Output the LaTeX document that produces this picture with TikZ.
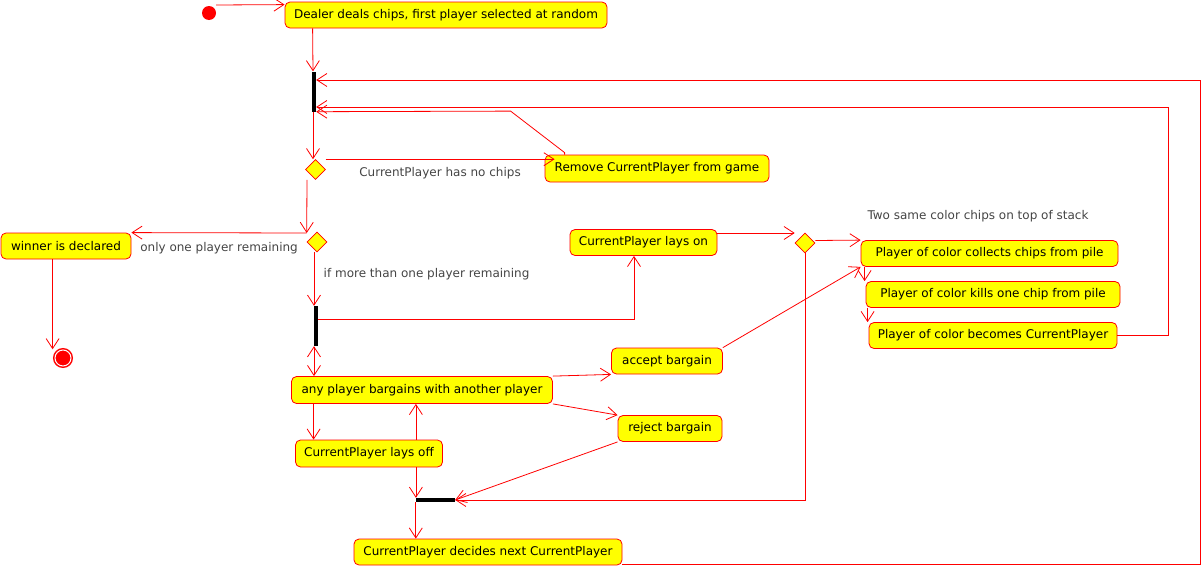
\documentclass[tikz,border=0pt]{standalone}
\usepackage{fontspec}
\setmainfont{DejaVu Sans}
\usetikzlibrary{shapes.geometric,arrows.meta}

\definecolor{umlred}{RGB}{255,0,0}
\definecolor{umlyellow}{RGB}{255,255,0}
\definecolor{guardgray}{RGB}{68,68,68}

\begin{document}
\begin{tikzpicture}[x=1pt,y=-1pt,
  activity/.style={draw=umlred,fill=umlyellow,rounded corners=5pt,line width=0.8pt,
    minimum height=26pt,inner sep=0pt,font=\fontsize{12}{14}\selectfont},
  choice/.style={diamond,aspect=1,draw=umlred,fill=umlyellow,line width=0.6pt,
    minimum size=20pt,inner sep=0pt},
  syncbar/.style={fill=black,inner sep=0pt},
  startdot/.style={circle,fill=umlred,minimum size=14pt,inner sep=0pt},
  enddot/.style={circle,draw=umlred,fill=umlred,line width=1.5pt,double=white,
    double distance=1pt,minimum size=16pt,inner sep=0pt},
  guard/.style={text=guardgray,font=\fontsize{12}{14}\selectfont},
  flow/.style={draw=umlred,line width=0.8pt,-{Straight Barb[length=10pt,width=13pt]}},
  flowboth/.style={flow,{Straight Barb[length=10pt,width=13pt]}-{Straight Barb[length=10pt,width=13pt]}}]
\useasboundingbox (0,0) rectangle (1202,565);

\node[startdot] (start) at (209,13) {};
\node[activity,minimum width=322pt] (dealer) at (446,15)
  {Dealer deals chips, first player selected at random};
\node[syncbar,minimum width=4pt,minimum height=40pt] (fork) at (314,91.5) {};
\node[choice] (haschips) at (315.5,169.5) {};
\node[activity,minimum width=224pt,minimum height=27pt] (remove) at (657,168.5)
  {Remove CurrentPlayer from game};
\node[choice] (players) at (317,242) {};
\node[activity,minimum width=130pt] (winner) at (66,246) {winner is declared};
\node[enddot] (final) at (63,358) {};
\node[syncbar,minimum width=4pt,minimum height=40pt] (split) at (316,326) {};
\node[activity,minimum width=147pt] (layson) at (643.5,242.5) {CurrentPlayer lays on};
\node[choice] (samecolor) at (805,243) {};
\node[guard] (twolbl) at (978,216) {Two same color chips on top of stack};
\node[activity,minimum width=257pt] (collects) at (989.5,253.5)
  {Player of color collects chips from pile};
\node[activity,minimum width=254pt] (kills) at (993,294.5)
  {Player of color kills one chip from pile};
\node[activity,minimum width=248pt] (becomes) at (993,335.5)
  {Player of color becomes CurrentPlayer};
\node[activity,minimum width=261pt,minimum height=27pt] (bargain) at (422,390)
  {any player bargains with another player};
\node[activity,minimum width=111pt] (accept) at (667,361) {accept bargain};
\node[activity,minimum width=104pt] (reject) at (670,428.5) {reject bargain};
\node[activity,minimum width=147pt,minimum height=27pt] (laysoff) at (369,453.5)
  {CurrentPlayer lays off};
\node[syncbar,minimum width=39pt,minimum height=4pt] (join) at (435.5,500) {};
\node[activity,minimum width=268pt] (decides) at (488,552)
  {CurrentPlayer decides next CurrentPlayer};

\draw[flow] ([xshift=7pt,yshift=8pt]start.center) -- ([yshift=-3pt]dealer.north west);
\draw[flow] ([xshift=28pt]dealer.south west) -- ([xshift=-1pt]fork.north);
\draw[flow] ([xshift=-1pt]fork.south) -- ([xshift=-1pt]fork.south |- haschips.north);
\draw[flow] ([xshift=10pt]haschips.north) -- ([xshift=10pt]haschips.north -| remove.west)
  node[guard,midway,below=4pt] (nochips) {CurrentPlayer has no chips};
\draw[flow] ([xshift=20pt]remove.north west) -- ++(0,-2) -- ++(-54,-41.5) -- (fork.south east);
\draw[flow] (becomes.east) -- ++(51,0) |- ([yshift=-15.5pt]fork.east);
\draw[flow] ([yshift=1pt]decides.south east) -- ++(578,0) |- ([yshift=11.5pt]fork.east);
\draw[flow] ([xshift=-8.5pt]haschips.south) -- ([yshift=9pt]players.west);
\draw[flow] ([yshift=9pt]players.west) -- (winner.north east)
  node[guard,midway,below=5.5pt] (onelbl) {only one player remaining};
\draw[flow] ([xshift=-3pt]players.south) -- ([xshift=-2pt]split.north)
  node[guard,pos=0.4,right=6pt] (morelbl) {if more than one player remaining};
\draw[flow] ([xshift=52pt]winner.south west) -- ([xshift=52pt]winner.south west |- final.north);
\draw[flow] ([yshift=7pt]split.east) -| ([xshift=-9.5pt]layson.south);
\draw[flowboth] ([xshift=-2pt]split.south) -- ([xshift=-2pt]split.south |- bargain.north);
\draw[flow] ([yshift=9.5pt]layson.east) -- ([yshift=10pt]samecolor.west);
\draw[flow] ([yshift=2.5pt]samecolor.east) -- (collects.north west);
\draw[flow] ([xshift=4pt]collects.south west) -- ([xshift=4pt]collects.south west |- kills.north);
\draw[flow] ([xshift=2pt]kills.south west) -- ([xshift=2pt]kills.south west |- becomes.north);
\draw[flow] (accept.north east) -- (collects.south west);
\draw[flow] (bargain.north east) -- (accept.south west);
\draw[flow] (bargain.south east) -- (reject.north west);
\draw[flow] ([xshift=22.5pt]bargain.south west) -- ([xshift=22.5pt]bargain.south west |- laysoff.north);
\draw[flow] ([xshift=-27pt]laysoff.north east) -- ([xshift=-27pt]laysoff.north east |- bargain.south);
\draw[flow] ([xshift=-27pt]laysoff.south east) -- ([xshift=-27pt]laysoff.south east |- join.north);
\draw[flow] (reject.south west) -- (join.east);
\draw[flow] (samecolor.south) |- (join.east);
\draw[flow] (join.south west) -- (join.south west |- decides.north);
\end{tikzpicture}
\end{document}
